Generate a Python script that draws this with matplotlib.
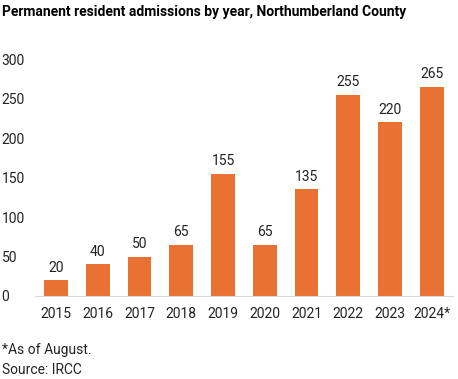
import matplotlib.pyplot as plt

plt.rcParams['font.family'] = ['Roboto', 'DejaVu Sans']

years = ['2015', '2016', '2017', '2018', '2019', '2020', '2021', '2022', '2023', '2024*']
admissions = [20, 40, 50, 65, 155, 65, 135, 255, 220, 265]

fig = plt.figure(figsize=(4.58, 3.79), dpi=100)
ax = fig.add_axes([0.0766, 0.219, 0.912, 0.625])

bars = ax.bar(years, admissions, width=0.57, color='#E97132')
ax.bar_label(bars, padding=4, fontsize=10, color='#222222')

ax.set_ylim(0, 300)
ax.set_xlim(-0.5, len(years) - 0.5)
ax.set_yticks(range(0, 301, 50))
for side in ['top', 'right', 'left']:
    ax.spines[side].set_visible(False)
ax.spines['bottom'].set_color('#d9d9d9')
ax.tick_params(axis='both', length=0, labelsize=10, colors='#222222')
ax.tick_params(axis='x', pad=8)
ax.tick_params(axis='y', pad=24)
for lbl in ax.get_yticklabels():
    lbl.set_horizontalalignment('left')

fig.text(0.005, 0.968, 'Permanent resident admissions by year, Northumberland County',
         fontsize=10, fontweight='bold', va='center', ha='left')
fig.text(0.005, 0.077, '*As of August.', fontsize=10, va='center', ha='left', color='#222222')
fig.text(0.005, 0.024, 'Source: IRCC', fontsize=10, va='center', ha='left', color='#222222')

fig.savefig('out.png', dpi=100)
